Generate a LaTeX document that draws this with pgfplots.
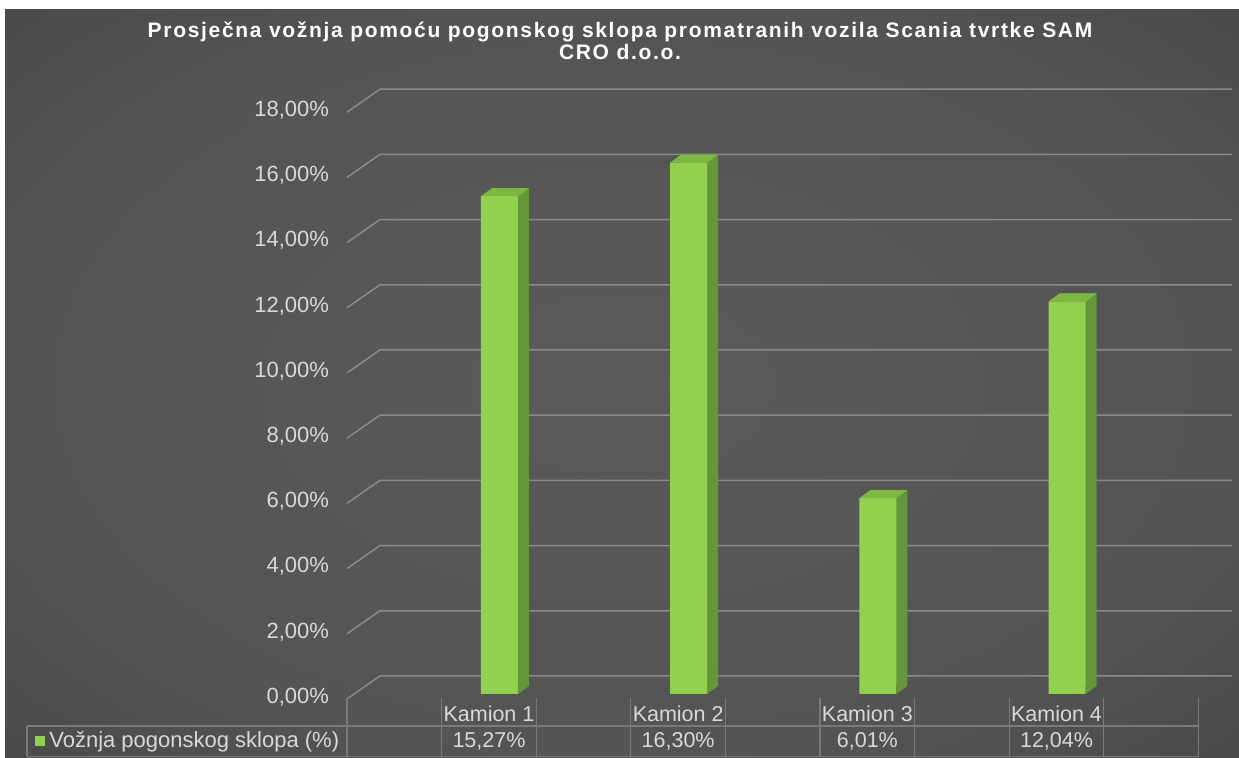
\documentclass[border=0pt]{standalone}
\usepackage{fontspec}
\setmainfont{Liberation Sans}
\newfontfamily\titlefont[LetterSpace=8]{Liberation Sans}
\usepackage{pgfplots}
\pgfplotsset{compat=1.18}
\usepackage{pgfplotstable}

\definecolor{frontg}{HTML}{92D050}
\definecolor{sideg}{HTML}{64963A}
\definecolor{topg}{HTML}{7DB843}
\definecolor{gridc}{HTML}{8A8A8A}
\definecolor{tabc}{HTML}{7A7A7A}
\definecolor{txt}{HTML}{D9D9D9}
\definecolor{bgin}{HTML}{5A5A5A}
\definecolor{bgmid}{HTML}{3C3C3C}
\definecolor{bgout}{HTML}{222222}
\pgfdeclareradialshading{bgshade}{\pgfpoint{0bp}{0bp}}{color(0bp)=(bgin); color(25bp)=(bgin!80!bgmid); color(50bp)=(bgmid); color(71bp)=(bgout)}

\pgfdeclareplotmark{bartop}{%
  \pgfpathmoveto{\pgfqpoint{-9.25pt}{0pt}}%
  \pgfpathlineto{\pgfqpoint{9.25pt}{0pt}}%
  \pgfpathlineto{\pgfqpoint{14.75pt}{4pt}}%
  \pgfpathlineto{\pgfqpoint{-3.75pt}{4pt}}%
  \pgfpathclose\pgfusepathqfill}
\pgfdeclareplotmark{barbot}{%
  \pgfpathmoveto{\pgfqpoint{9.25pt}{0pt}}%
  \pgfpathlineto{\pgfqpoint{14.75pt}{4pt}}%
  \pgfpathlineto{\pgfqpoint{9.25pt}{4pt}}%
  \pgfpathclose\pgfusepathqfill}

\pgfplotstableread{
x y
0 15.27
1 16.30
2 6.01
3 12.04
}\datatable

\begin{document}
\begin{tikzpicture}[x=0.5pt,y=0.5pt]
\fill[white] (0,0) rectangle (1239,758);
\shade[shading=bgshade] (5,0) rectangle (1239,748);

\begin{axis}[
  at={(173.5pt,32pt)}, anchor=south west,
  scale only axis, width=442.5pt, height=293.4pt,
  xmin=-0.806, xmax=3.872, ymin=0, ymax=18,
  axis line style={draw=none}, major tick style={draw=none},
  clip=false,
  /pgf/number format/assume math mode=true,
  ytick={0,2,...,18},
  yticklabel={\pgfmathprintnumber[fixed,fixed zerofill,precision=2,use comma]{\tick}\%},
  yticklabel style={font=\fontsize{11}{13}\selectfont, text=txt, anchor=east, xshift=-5.5pt, yshift=-1.5pt},
  xtick={0,1,2,3},
  xticklabels={{Kamion 1\\15,27\%},{Kamion 2\\16,30\%},{Kamion 3\\6,01\%},{Kamion 4\\12,04\%}},
  xticklabel style={font=\fontsize{10.75}{13}\selectfont, text=txt, align=center, anchor=north, xshift=-5.25pt, yshift=-2.5pt},
  title={Prosječna vožnja pomoću pogonskog sklopa promatranih vozila Scania tvrtke SAM\\CRO d.o.o.},
  title style={at={(axis description cs:0.3085,1.1264)}, anchor=north, inner sep=0pt, align=center,
    font=\titlefont\bfseries\fontsize{10.5}{11}\selectfont, text=white},
  legend style={at={(axis description cs:-0.3526,-0.0801)}, anchor=west, draw=none, fill=none,
    inner sep=0pt, font=\fontsize{11}{13}\selectfont, text=txt, legend cell align=left},
  legend image code/.code={\fill[frontg] (0pt,-2.5pt) rectangle (5pt,2.5pt);},
]
\pgfplotsinvokeforeach{0,2,...,18}{
  \draw[gridc, line width=0.75pt] ([yshift=-2.5pt]axis cs:-0.806,#1) -- ([yshift=9pt]axis cs:-0.632,#1) -- ([yshift=9pt]axis cs:3.872,#1);
}
\addplot[ybar, bar width=18.5pt, fill=sideg, draw=none, xshift=5.5pt, yshift=4pt, forget plot] table[x=x,y=y]{\datatable};
\addplot[only marks, mark=barbot, mark options={fill=sideg, draw=none}, forget plot] coordinates {(0,0) (1,0) (2,0) (3,0)};
\addplot[ybar, bar width=18.5pt, fill=frontg, draw=none] table[x=x,y=y]{\datatable};
\addlegendentry{Vožnja pogonskog sklopa (\%)}
\addplot[only marks, mark=bartop, mark options={fill=topg, draw=none}, forget plot] table[x=x,y=y]{\datatable};
\end{axis}

% data table grid
\draw[tabc, line width=0.6pt] (27,32) -- (1199,32);
\draw[tabc, line width=0.6pt] (27,1.5) -- (1199,1.5);
\draw[tabc, line width=0.6pt] (27,32) -- (27,1.5);
\foreach \k in {0,...,9} {
  \draw[tabc, line width=0.6pt] ({347+94.6*\k},60) -- ({347+94.6*\k},1.5);
}
\pgfresetboundingbox
\path[use as bounding box] (0,0) rectangle (1239,758);
\end{tikzpicture}
\end{document}
